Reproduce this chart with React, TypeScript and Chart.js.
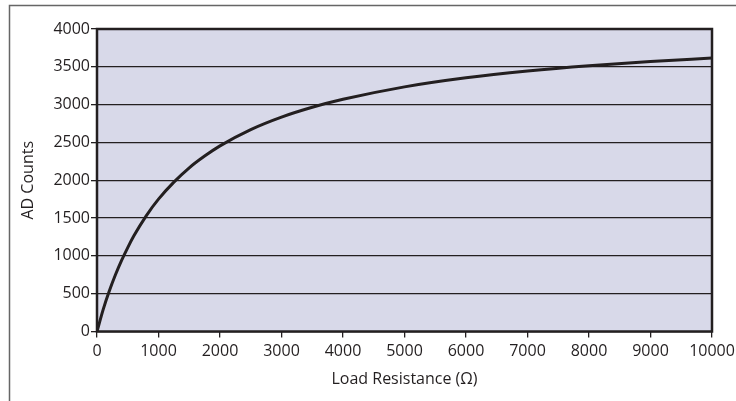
import React, { useEffect, useRef } from "react";
import { Chart, registerables } from "chart.js";

Chart.register(...registerables);

const resistance = [0, 100, 200, 300, 400, 500, 600, 800, 1000, 1250, 1500, 1750, 2000, 2500, 3000, 3500, 4000, 5000, 6000, 7000, 8000, 9000, 10000];
const adCounts = [0, 290, 535, 750, 940, 1110, 1265, 1530, 1750, 1975, 2165, 2320, 2455, 2670, 2835, 2965, 3070, 3235, 3355, 3445, 3515, 3570, 3615];
const xTicks = [0, 1000, 2000, 3000, 4000, 5000, 6000, 7000, 8000, 9000, 10000];
const yTicks = [0, 500, 1000, 1500, 2000, 2500, 3000, 3500, 4000];

const INK = "#231f20";
const FONT = "'Open Sans', sans-serif";

const framePlugin = {
  id: "frame",
  beforeDraw(chart: any) {
    const { ctx, chartArea: a } = chart;
    ctx.save();
    ctx.fillStyle = "#ffffff";
    ctx.fillRect(0, 0, chart.width, chart.height);
    ctx.strokeStyle = "#666666";
    ctx.lineWidth = 1.5;
    ctx.beginPath();
    ctx.moveTo(9.5, chart.height);
    ctx.lineTo(9.5, 5.5);
    ctx.lineTo(chart.width, 5.5);
    ctx.stroke();
    ctx.fillStyle = "#d8d9e9";
    ctx.fillRect(a.left, a.top, a.right - a.left, a.bottom - a.top);
    ctx.restore();
  },
  beforeDatasetsDraw(chart: any) {
    const { ctx, chartArea: a } = chart;
    ctx.save();
    ctx.strokeStyle = INK;
    ctx.lineWidth = 2.5;
    ctx.strokeRect(a.left, a.top, a.right - a.left, a.bottom - a.top);
    ctx.restore();
  },
};

export default function App() {
  const ref = useRef<HTMLCanvasElement>(null);
  useEffect(() => {
    document.body.style.margin = "0";
    const chart = new Chart(ref.current!, {
      type: "line",
      data: {
        datasets: [
          {
            data: resistance.map((x, i) => ({ x, y: adCounts[i] })),
            borderColor: INK,
            borderWidth: 3,
            pointRadius: 0,
            cubicInterpolationMode: "monotone",
            fill: false,
          },
        ],
      },
      options: {
        animation: false,
        responsive: false,
        devicePixelRatio: 1,
        layout: { padding: { top: 29, right: 24, left: 0, bottom: 0 } },
        plugins: { legend: { display: false }, tooltip: { enabled: false } },
        scales: {
          x: {
            type: "linear",
            min: 0,
            max: 10000,
            afterBuildTicks: (s: any) => {
              s.ticks = xTicks.map((v) => ({ value: v }));
            },
            afterFit: (s: any) => {
              s.height = 69.5;
              s.paddingRight = 0;
              s.paddingLeft = 0;
            },
            ticks: {
              color: INK,
              font: { family: FONT, size: 16 },
              padding: 4,
              maxRotation: 0,
              autoSkip: false,
              callback: (v: any) => String(v),
            },
            grid: { drawOnChartArea: false, drawTicks: true, tickLength: 6, color: INK, lineWidth: 1.3 },
            border: { display: false },
            title: {
              display: true,
              text: "Load Resistance (Ω)",
              color: INK,
              font: { family: FONT, size: 16 },
              padding: { top: 0, bottom: 12 },
            },
          },
          y: {
            min: 0,
            max: 4000,
            afterBuildTicks: (s: any) => {
              s.ticks = yTicks.map((v) => ({ value: v }));
            },
            afterFit: (s: any) => {
              s.width = 97;
            },
            ticks: {
              color: INK,
              font: { family: FONT, size: 16 },
              padding: 1,
              autoSkip: false,
              callback: (v: any) => String(v),
            },
            grid: { drawOnChartArea: true, drawTicks: true, tickLength: 6, color: INK, lineWidth: 1.3 },
            border: { display: false },
            title: {
              display: true,
              text: "AD Counts",
              color: INK,
              font: { family: FONT, size: 16 },
              padding: { top: 19, bottom: 0 },
            },
          },
        },
      },
      plugins: [framePlugin],
    });
    return () => chart.destroy();
  }, []);
  return <canvas ref={ref} width={736} height={401} style={{ display: "block" }} />;
}
